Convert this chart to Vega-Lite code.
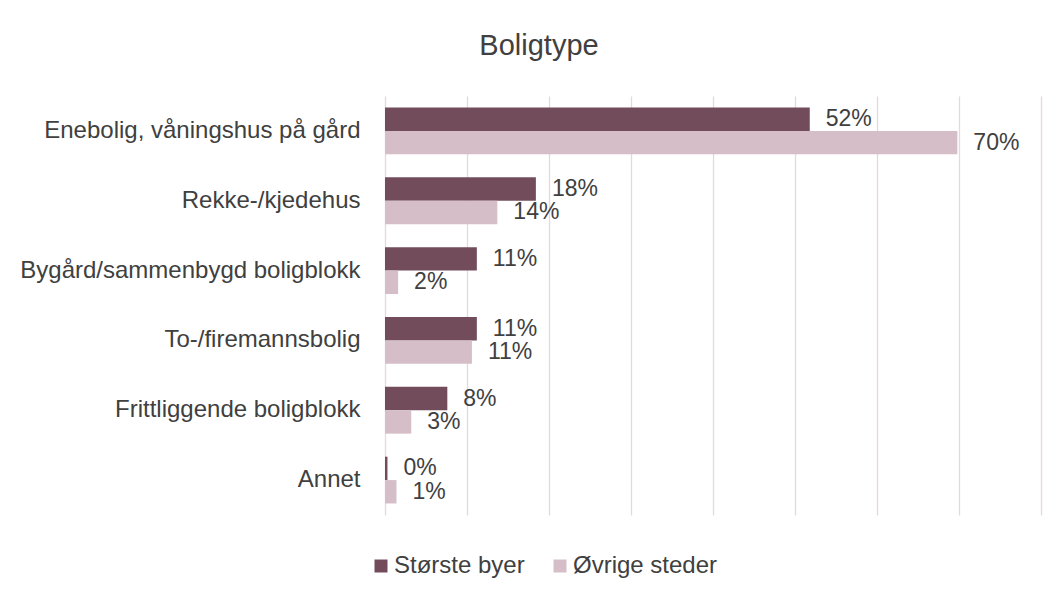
{
  "$schema": "https://vega.github.io/schema/vega-lite/v6.json",
  "autosize": {"type": "none"},
  "width": 656,
  "height": 419,
  "padding": {"left": 385, "top": 96, "right": 20, "bottom": 84},
  "background": "white",
  "config": {
    "font": "Liberation Sans",
    "view": {"stroke": null},
    "text": {"font": "Liberation Sans"}
  },
  "title": {
    "text": "Boligtype",
    "font": "Liberation Sans",
    "fontSize": 29,
    "fontWeight": "normal",
    "color": "#404040",
    "anchor": "middle",
    "frame": "group",
    "baseline": "alphabetic",
    "offset": 12,
    "dx": -174
  },
  "data": {
    "values": [
      {"kategori": "Enebolig, våningshus på gård", "gruppe": "Største byer", "andel": 0.518},
      {"kategori": "Enebolig, våningshus på gård", "gruppe": "Øvrige steder", "andel": 0.698},
      {"kategori": "Rekke-/kjedehus", "gruppe": "Største byer", "andel": 0.184},
      {"kategori": "Rekke-/kjedehus", "gruppe": "Øvrige steder", "andel": 0.137},
      {"kategori": "Bygård/sammenbygd boligblokk", "gruppe": "Største byer", "andel": 0.112},
      {"kategori": "Bygård/sammenbygd boligblokk", "gruppe": "Øvrige steder", "andel": 0.016},
      {"kategori": "To-/firemannsbolig", "gruppe": "Største byer", "andel": 0.112},
      {"kategori": "To-/firemannsbolig", "gruppe": "Øvrige steder", "andel": 0.106},
      {"kategori": "Frittliggende boligblokk", "gruppe": "Største byer", "andel": 0.076},
      {"kategori": "Frittliggende boligblokk", "gruppe": "Øvrige steder", "andel": 0.032},
      {"kategori": "Annet", "gruppe": "Største byer", "andel": 0.003},
      {"kategori": "Annet", "gruppe": "Øvrige steder", "andel": 0.014}
    ]
  },
  "encoding": {
    "y": {
      "field": "kategori",
      "type": "nominal",
      "sort": null,
      "scale": {"paddingInner": 0.33, "paddingOuter": 0.165},
      "axis": {
        "title": null,
        "ticks": false,
        "domain": false,
        "labelFont": "Liberation Sans",
        "labelFontSize": 24,
        "labelColor": "#404040",
        "labelPadding": 25,
        "labelLimit": 400
      }
    },
    "yOffset": {
      "field": "gruppe",
      "type": "nominal",
      "sort": ["Største byer", "Øvrige steder"],
      "scale": {"paddingInner": 0, "paddingOuter": 0}
    },
    "x": {
      "field": "andel",
      "type": "quantitative",
      "scale": {"domain": [0, 0.8], "nice": false},
      "axis": {
        "title": null,
        "labels": false,
        "ticks": false,
        "domain": false,
        "grid": true,
        "gridColor": "#EAD6DD",
        "gridWidth": 1.3,
        "values": [0, 0.1, 0.2, 0.3, 0.4, 0.5, 0.6, 0.7, 0.8]
      }
    }
  },
  "layer": [
    {
      "mark": {"type": "bar"},
      "encoding": {
        "color": {
          "field": "gruppe",
          "type": "nominal",
          "sort": ["Største byer", "Øvrige steder"],
          "scale": {"domain": ["Største byer", "Øvrige steder"], "range": ["#734C5C", "#D5BEC8"]},
          "legend": {
            "title": null,
            "orient": "none",
            "direction": "horizontal",
            "legendX": -16,
            "legendY": 458,
            "padding": 0,
            "symbolType": "square",
            "symbolSize": 169,
            "symbolStrokeWidth": 0,
            "symbolOpacity": 1,
            "labelFont": "Liberation Sans",
            "labelFontSize": 24,
            "labelColor": "#404040",
            "labelOffset": 1,
            "columnPadding": 23,
            "labelLimit": 300
          }
        }
      }
    },
    {
      "mark": {
        "type": "text",
        "align": "left",
        "baseline": "middle",
        "dx": 16,
        "fontSize": 23,
        "font": "Liberation Sans",
        "color": "#404040"
      },
      "encoding": {
        "text": {"field": "andel", "type": "quantitative", "format": ".0%"}
      }
    }
  ]
}
